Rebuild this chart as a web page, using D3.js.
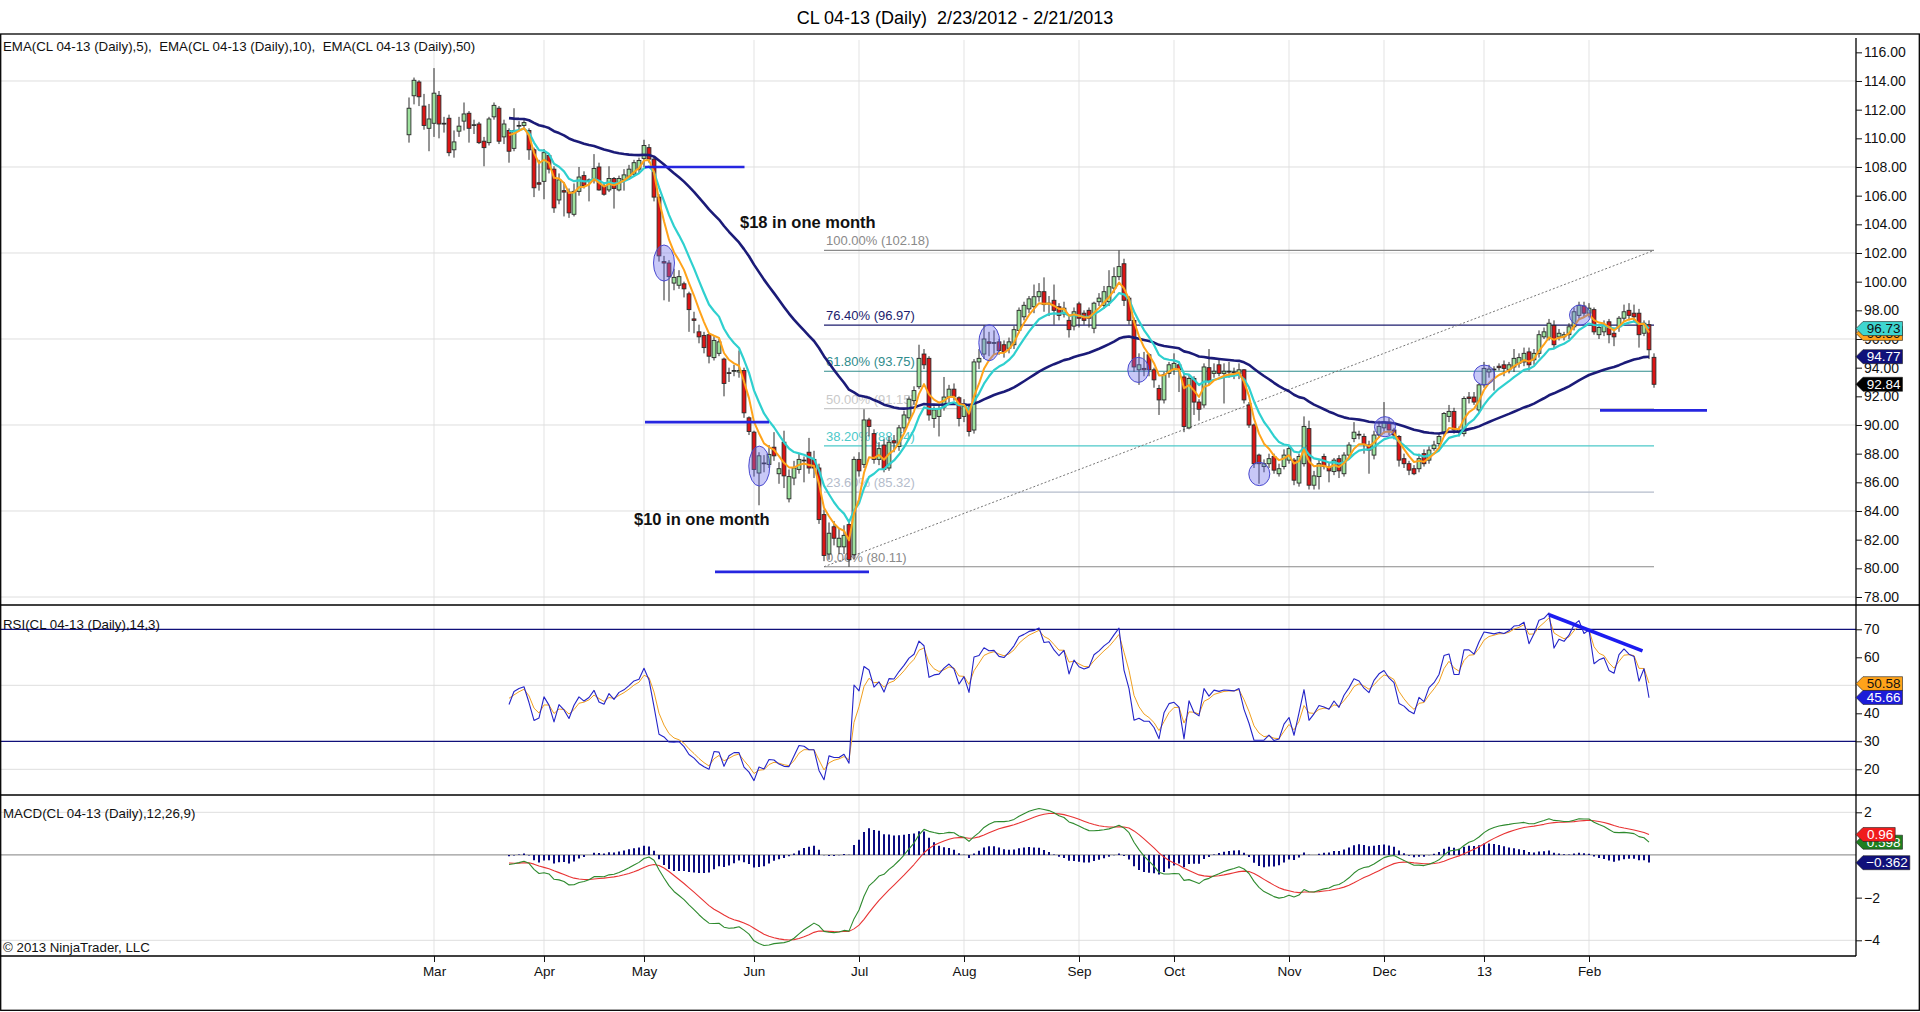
<!DOCTYPE html>
<html><head><meta charset="utf-8">
<script src="https://cdn.jsdelivr.net/npm/d3@7"></script>
<style>
html,body{margin:0;padding:0;background:#fff;}
svg{display:block;font-family:"Liberation Sans",Arial,sans-serif;}
</style></head><body>
<svg id="c" width="1920" height="1012"></svg>
<script>
// ---------------- DATA ----------------
const opens = [110.25,112.97,113.93,112.25,110.7,111.05,113.0,111.05,111.4,109.2,
110.5,111.2,111.75,110.9,111.0,109.8,109.7,111.5,112.1,110.1,
110.55,109.3,110.85,110.9,110.55,109.2,106.9,107.0,108.8,107.85,
105.7,106.35,106.25,104.7,106.3,107.4,107.05,107.1,108.0,106.7,
106.4,107.2,106.4,107.1,107.35,107.5,107.85,108.6,109.35,108.55,
105.9,101.4,101.3,99.9,99.75,99.85,99.15,97.4,96.5,96.25,
96.3,94.7,95.0,94.6,93.65,93.75,93.7,93.8,90.5,89.5,
86.65,87.35,87.25,88.45,86.6,88.8,84.85,86.3,86.9,87.55,
88.1,87.6,87.0,83.75,81.0,82.9,81.5,81.5,83.05,80.95,
87.6,87.25,90.35,89.4,87.6,88.6,87.0,88.9,88.5,89.8,
90.5,91.7,92.67,94.95,94.65,90.45,90.6,91.25,91.95,92.5,
91.9,90.6,91.15,89.65,94.4,94.95,95.8,95.7,95.8,95.6,
95.35,95.6,96.6,97.55,98.1,98.25,98.95,99.3,98.45,98.7,
98.25,97.75,97.3,96.9,98.45,97.8,98.0,96.75,98.6,98.35,
98.6,99.55,100.35,101.25,98.85,97.3,93.85,93.95,94.9,93.85,
92.55,91.75,93.6,93.9,94.2,93.35,89.8,93.25,91.6,91.4,
94.0,93.6,94.2,93.6,93.75,93.7,93.6,93.85,91.4,90.0,
87.9,87.1,87.3,87.8,86.6,87.1,87.55,87.55,85.95,87.3,
89.75,85.8,86.4,87.8,87.1,86.75,87.65,86.6,87.9,89.05,
89.35,89.2,88.6,87.9,89.3,89.8,90.2,89.65,89.2,87.65,
87.3,86.95,86.95,88.0,87.55,88.35,88.7,89.4,90.6,90.95,
89.5,89.4,91.95,91.95,91.05,92.8,93.7,93.9,94.1,94.2,
93.85,94.05,94.3,94.4,95.1,94.55,95.0,96.15,96.05,96.95,
96.15,96.15,96.3,96.85,97.65,98.3,97.8,98.05,96.3,96.5,
97.2,96.4,96.85,97.45,98.0,97.8,97.8,96.4,97.0,94.72];
const highs = [112.85,114.24,114.05,113.1,112.4,114.9,113.3,111.5,111.65,110.55,
111.5,112.5,111.9,111.3,111.15,110.1,111.5,112.5,112.25,111.3,
110.7,112.1,111.2,111.4,110.7,109.35,108.5,109.25,108.9,108.05,
107.55,106.95,106.5,106.85,108.0,107.7,107.2,108.9,108.3,106.85,
108.05,107.3,107.4,107.85,108.15,108.5,108.65,109.9,109.6,108.7,
106.1,101.8,101.5,100.9,100.8,100.0,99.3,97.9,97.0,96.5,
96.4,96.2,96.0,94.7,94.0,94.2,95.2,94.0,90.6,89.6,
88.1,87.9,88.6,89.5,87.4,89.6,86.9,87.5,88.0,87.8,
89.1,88.2,87.3,84.1,83.2,83.3,82.8,83.0,83.3,87.8,
88.1,91.1,90.5,89.7,88.8,89.0,89.2,89.3,90.0,91.0,
92.0,92.7,95.6,95.3,94.8,91.3,91.5,93.35,92.8,92.9,
92.0,91.8,91.5,94.6,95.3,96.95,96.5,96.6,96.0,95.9,
96.1,96.9,98.2,98.6,99.0,99.8,99.9,100.3,99.0,99.8,
98.5,98.6,97.7,98.2,98.6,98.0,98.2,98.6,99.2,99.7,
100.8,101.0,102.18,101.6,99.0,97.5,95.0,95.1,95.0,94.0,
92.8,93.7,94.4,95.0,94.3,93.6,93.5,93.4,91.8,94.3,
95.3,94.3,94.6,94.3,94.4,94.0,94.3,93.9,91.6,90.1,
88.0,87.6,88.0,88.0,87.3,88.3,88.6,87.7,88.0,90.6,
90.3,86.8,87.6,88.0,87.4,87.7,87.9,88.1,88.8,90.2,
89.6,89.4,88.9,89.6,90.3,91.6,90.5,89.8,89.3,88.0,
87.5,87.2,88.0,88.3,88.5,88.9,89.4,90.9,91.4,91.2,
89.9,92.0,92.3,92.3,92.9,94.4,94.2,94.1,94.3,94.5,
94.4,95.3,95.0,95.4,95.4,95.3,96.6,96.8,97.4,97.3,
96.7,96.5,97.1,98.2,98.6,98.6,98.5,98.2,97.0,97.3,
97.4,96.8,97.6,98.4,98.5,98.4,98.1,97.3,97.3,95.0];
const lows = [109.7,112.37,112.25,110.6,109.1,110.1,110.0,110.4,108.75,108.65,
110.1,110.55,109.7,110.3,109.6,108.05,109.5,111.3,109.6,109.6,
108.3,109.1,110.5,110.6,108.5,105.9,106.35,105.75,107.55,104.8,
105.4,104.55,104.45,104.55,106.0,106.5,105.6,106.85,106.35,106.0,
106.25,105.1,106.3,106.35,107.1,107.3,107.55,108.0,108.3,105.6,
101.4,98.7,98.6,99.4,99.5,98.9,96.5,96.4,95.7,95.0,
94.3,94.5,94.8,92.0,93.0,93.4,93.3,90.5,89.3,86.4,
84.4,86.7,87.0,87.5,85.9,85.6,84.6,85.8,86.6,86.0,
86.6,86.3,83.1,80.5,80.6,81.6,81.0,81.0,80.11,80.6,
86.4,87.0,89.2,87.3,87.2,86.7,86.8,88.1,88.2,89.5,
90.3,91.4,92.5,93.9,90.3,89.8,89.2,91.0,91.6,91.7,
89.9,90.2,89.2,89.4,93.9,94.6,94.8,94.9,94.9,94.7,
95.0,95.3,96.4,97.3,97.8,97.8,98.6,97.9,97.6,97.0,
97.3,97.5,96.1,96.6,96.8,97.0,96.8,96.4,98.3,98.1,
98.3,99.2,100.1,98.3,97.0,93.7,92.8,93.4,93.4,92.6,
90.7,91.5,93.3,93.5,92.3,89.5,89.7,90.7,90.3,91.2,
92.8,93.3,93.4,91.5,93.3,93.2,93.2,91.5,89.8,87.0,
85.9,86.7,87.0,86.6,86.4,86.9,87.3,85.8,85.7,87.1,
85.5,85.5,85.5,86.9,86.0,86.5,86.3,86.4,87.7,88.8,
89.0,88.0,86.6,87.6,89.1,89.4,89.3,89.0,87.1,87.0,
86.5,86.5,86.7,87.1,87.3,88.2,88.5,89.2,90.2,89.4,
89.2,89.2,91.5,91.4,90.9,92.6,93.3,92.4,93.8,93.4,
93.6,93.7,94.0,94.1,93.8,94.2,94.7,96.0,95.9,95.3,
95.9,95.9,96.0,96.6,97.4,97.5,97.5,96.3,96.0,96.2,
95.7,95.5,96.5,97.2,97.3,97.2,95.4,96.2,94.6,92.6];
const closes = [112.1,114.05,112.9,110.9,111.35,113.15,111.0,111.0,109.0,109.75,
110.85,111.7,110.7,110.95,109.7,109.35,111.35,112.3,109.8,111.0,
109.1,110.55,110.9,111.1,109.2,106.55,106.8,109.0,107.85,105.15,
107.1,106.25,104.8,106.3,107.3,106.7,107.1,107.9,106.4,106.1,
107.2,106.5,107.2,107.45,107.85,108.3,108.45,109.5,108.55,105.9,
101.8,101.3,100.35,100.3,100.35,99.5,98.05,97.3,96.15,95.4,
94.8,95.9,95.8,92.9,93.6,93.8,93.8,90.85,89.55,86.9,
87.85,87.3,87.95,87.85,86.95,86.45,86.4,87.0,87.6,87.5,
87.0,87.0,83.4,80.9,82.45,82.1,82.1,82.3,80.6,87.6,
86.8,90.35,89.9,87.6,88.35,86.9,88.8,88.75,89.8,90.7,
91.8,92.4,94.65,94.2,90.7,91.05,91.15,91.95,92.5,92.0,
90.45,91.3,89.55,94.4,94.65,96.0,95.7,95.75,95.2,95.1,
95.8,96.65,98.0,98.35,98.8,98.95,99.3,98.4,98.5,98.0,
97.65,98.15,96.65,97.9,97.45,97.3,97.45,98.5,98.85,99.3,
99.65,100.35,101.05,98.7,97.3,94.05,94.2,93.85,93.85,93.15,
91.75,93.5,94.2,94.3,93.85,89.9,93.25,91.6,91.1,94.05,
93.05,93.75,93.6,93.75,93.7,93.65,93.85,91.75,90.0,87.3,
87.3,87.3,87.65,86.85,86.95,87.9,88.35,86.15,87.8,89.9,
85.8,86.45,87.3,87.1,86.8,87.55,86.8,87.9,88.6,89.5,
89.3,88.65,88.25,89.3,89.9,90.2,89.65,89.3,87.55,87.3,
86.85,86.6,87.65,87.3,88.25,88.6,89.2,90.8,90.95,89.65,
89.65,91.85,91.85,91.6,92.8,93.95,93.9,93.85,94.0,93.95,
94.2,94.65,94.7,95.0,94.2,95.0,96.3,96.5,97.1,95.6,
96.4,96.3,96.85,97.9,98.35,97.8,98.15,96.5,96.8,96.95,
96.3,96.15,97.45,97.9,97.65,97.55,96.3,97.1,95.25,92.84];

const monthLabels = ["Mar","Apr","May","Jun","Jul","Aug","Sep","Oct","Nov","Dec","13","Feb"];
const monthBars   = [5,27,47,69,90,111,134,153,176,195,215,236];
const priceTicks = [78,80,82,84,86,88,90,92,94,96,98,100,102,104,106,108,110,112,114,116];
const priceGrid  = [78,84,90,96,102,108,114];
const rsiTicks = [20,30,40,60,70];       // the 50 label sits hidden under the value tags
const rsiGrid  = [20,50];
const rsiBands = [70,30];
const macdTicks = [-4,-2,2];             // the 0 label sits hidden under the value tags
const macdGrid  = [-4,2];

// last values printed in the right-hand tags
const priceTagNames  = ["EMA5","EMA10","EMA50","Last"];
const priceTagValues = [96.39,96.73,94.77,92.84];
const rsiTagNames  = ["Avg","RSI"];
const rsiTagValues = [50.58,45.66];
const macdTagNames  = ["Macd","Avg","Diff"];
const macdTagValues = [0.598,0.96,-0.362];

// drawings
const fibLow = 80.11, fibHigh = 102.18, fibFromBar = 83, fibToBar = 249;
const fibLevels = [0,23.6,38.2,50,61.8,76.4,100];
const blueLines = [[47.2,67.1,108.0],[47.2,72.0,90.2],[61.2,92.0,79.75],[238.2,259.6,91.02]];
const ellipses = [[51,102.56,100.04],[70.06,88.53,85.74],[116.06,97.0,94.48],[145.86,94.72,92.97],
                  [170.06,87.4,85.77],[195.2,90.58,89.18],[215.06,94.18,92.8],[234.2,98.37,96.97]];
const notes = [["$18 in one month",66.2,104.05],["$10 in one month",45.0,83.35]];
const rsiTrend = [[228,75.2],[246.7,62.3]];

// ---------------- INDICATORS (NinjaTrader definitions) ----------------
const calc = closes.slice(0, closes.length - 1); // last bar still forming
function ema(src,p){const a=2/(1+p);const o=[];src.forEach((v,i)=>o.push(i===0?v:a*v+(1-a)*o[i-1]));return o;}
const ema5=ema(calc,5), ema10=ema(calc,10), ema50=ema(calc,50);
function rsiCalc(src,period,smooth){
  const up=[],dn=[],au=[],ad=[],val=[],avg=[];const k=2/(1+smooth);
  for(let i=0;i<src.length;i++){
    if(i===0){up.push(0);dn.push(0);au.push(0);ad.push(0);val.push(50);avg.push(50);continue;}
    up.push(Math.max(src[i]-src[i-1],0));dn.push(Math.max(src[i-1]-src[i],0));
    if(i+1<period){au.push(0);ad.push(0);val.push(50);avg.push(50);continue;}
    if(i+1===period){au.push(d3.mean(up.slice(i-period+1,i+1)));ad.push(d3.mean(dn.slice(i-period+1,i+1)));}
    else{au.push((au[i-1]*(period-1)+up[i])/period);ad.push((ad[i-1]*(period-1)+dn[i])/period);}
    const r=ad[i]===0?100:100-100/(1+au[i]/ad[i]);
    val.push(r);avg.push(k*r+(1-k)*avg[i-1]);
  }
  return {val,avg};
}
const RSI = rsiCalc(calc,14,3);
const f12=ema(calc,12), s26=ema(calc,26);
const macd = calc.map((v,i)=>i===0?0:f12[i]-s26[i]);
const macdAvg=[];macd.forEach((v,i)=>macdAvg.push(i===0?0:0.2*v+0.8*macdAvg[i-1]));
const macdDiff = macd.map((v,i)=>v-macdAvg[i]);
const FIRST = 20;

// ---------------- LAYOUT ----------------
const AX = 1856;
const P = {top:34,bottom:605}, R={top:605,bottom:795}, M={top:795,bottom:956};
const x = d3.scaleLinear().domain([0,249]).range([409,1654]);
const yP = d3.scaleLinear().domain([78,116]).range([597,52.33]);
const yR = d3.scaleLinear().domain([20,70]).range([769.3,629.3]);
const yM = d3.scaleLinear().domain([-4,2]).range([940.3,812.3]);

const svg = d3.select("#c");
svg.append("rect").attr("width",1920).attr("height",1012).attr("fill","#fff");

const defs = svg.append("defs");
[["cp",P],["cr",R],["cm",M]].forEach(([id,p])=>{
  defs.append("clipPath").attr("id",id).append("rect").attr("x",0).attr("y",p.top).attr("width",AX).attr("height",p.bottom-p.top);
});

// title
svg.append("text").attr("x",955).attr("y",24).attr("text-anchor","middle").attr("font-size",18)
  .style("white-space","pre").text("CL 04-13 (Daily)  2/23/2012 - 2/21/2013");

// grid
const grid = svg.append("g");
monthBars.forEach(b=>{
  [[P.top+6,P.bottom],[R.top,R.bottom],[M.top,M.bottom]].forEach(([a,c])=>
    grid.append("line").attr("x1",x(b)).attr("x2",x(b)).attr("y1",a).attr("y2",c).attr("stroke","#e3e3e3").attr("stroke-width",1));
});
priceGrid.forEach(v=>grid.append("line").attr("x1",0).attr("x2",AX).attr("y1",yP(v)).attr("y2",yP(v)).attr("stroke","#dedede"));
rsiGrid.forEach(v=>grid.append("line").attr("x1",0).attr("x2",AX).attr("y1",yR(v)).attr("y2",yR(v)).attr("stroke","#dedede"));
macdGrid.forEach(v=>grid.append("line").attr("x1",0).attr("x2",AX).attr("y1",yM(v)).attr("y2",yM(v)).attr("stroke","#dedede"));

// ---- price panel ----
const gp = svg.append("g").attr("clip-path","url(#cp)");
const fibColors = {0:"#8a8a8a",23.6:"#b4bccb",38.2:"#4cc9c9",50:"#c9c9c9",61.8:"#2f8c8c",76.4:"#1c1c6e",100:"#8a8a8a"};
fibLevels.forEach(l=>{
  const v = fibLow + (fibHigh-fibLow)*l/100;
  const yy = yP(v);
  gp.append("line").attr("x1",x(fibFromBar)).attr("x2",x(fibToBar)).attr("y1",yy).attr("y2",yy)
    .attr("stroke",fibColors[l]).attr("stroke-width",1.2);
  gp.append("text").attr("x",x(fibFromBar)+2).attr("y",yy-5).attr("font-size",13).attr("fill",fibColors[l])
    .text(l.toFixed(2)+"% ("+(Math.round(v*100+1e-6)/100).toFixed(2)+")");
});
gp.append("line").attr("x1",x(fibFromBar)).attr("y1",yP(fibLow)).attr("x2",x(fibToBar)).attr("y2",yP(fibHigh))
  .attr("stroke","#777").attr("stroke-width",1).attr("stroke-dasharray","2,2");

// candles
const bars = d3.range(opens.length);
gp.append("g").selectAll("line").data(bars).join("line")
  .attr("x1",i=>x(i)).attr("x2",i=>x(i)).attr("y1",i=>yP(highs[i])).attr("y2",i=>yP(lows[i]))
  .attr("stroke","#2a2a2a").attr("stroke-width",1);
gp.append("g").selectAll("rect").data(bars).join("rect")
  .attr("x",i=>x(i)-1.9).attr("width",3.8)
  .attr("y",i=>yP(Math.max(opens[i],closes[i])))
  .attr("height",i=>Math.max(0.8,Math.abs(yP(opens[i])-yP(closes[i]))))
  .attr("fill",i=>closes[i]>=opens[i]?"#9ee29e":"#dd1414")
  .attr("stroke","#2a2a2a").attr("stroke-width",0.9);

// EMAs
const idx = d3.range(FIRST, calc.length);
function plot(g,scale,arr,color,w){
  g.append("path").datum(idx).attr("fill","none").attr("stroke",color).attr("stroke-width",w)
   .attr("stroke-linejoin","round").attr("d",d3.line().x(i=>x(i)).y(i=>scale(arr[i])));
}
plot(gp,yP,ema50,"#1b1b78",2.6);
plot(gp,yP,ema10,"#2fd0cf",2.2);
plot(gp,yP,ema5,"#ffa31a",2);

// drawings
ellipses.forEach(([b,hi,lo])=>{
  gp.append("ellipse").attr("cx",x(b)).attr("cy",(yP(hi)+yP(lo))/2).attr("rx",10.5).attr("ry",(yP(lo)-yP(hi))/2)
    .attr("fill","rgba(110,110,235,0.38)").attr("stroke","#4a4ad0").attr("stroke-width",1);
});
blueLines.forEach(([a,b,v])=>{
  gp.append("line").attr("x1",x(a)).attr("x2",x(b)).attr("y1",yP(v)).attr("y2",yP(v))
    .attr("stroke","#2626e0").attr("stroke-width",2.6);
});
notes.forEach(([t,b,v])=>{
  gp.append("text").attr("x",x(b)).attr("y",yP(v)).attr("dominant-baseline","middle")
    .attr("font-size",16.5).attr("font-weight","bold").attr("fill","#111").text(t);
});

// ---- RSI panel ----
const gr = svg.append("g").attr("clip-path","url(#cr)");
rsiBands.forEach(v=>gr.append("line").attr("x1",0).attr("x2",AX).attr("y1",yR(v)).attr("y2",yR(v)).attr("stroke","#10107a").attr("stroke-width",1.2));
plot(gr,yR,RSI.avg,"#f0a020",1);
plot(gr,yR,RSI.val,"#2424c8",1.1);
gr.append("line").attr("x1",x(rsiTrend[0][0])).attr("y1",yR(rsiTrend[0][1])).attr("x2",x(rsiTrend[1][0])).attr("y2",yR(rsiTrend[1][1]))
  .attr("stroke","#1c1cf0").attr("stroke-width",3.6);

// ---- MACD panel ----
const gm = svg.append("g").attr("clip-path","url(#cm)");
gm.append("line").attr("x1",0).attr("x2",AX).attr("y1",yM(0)).attr("y2",yM(0)).attr("stroke","#9a9a9a").attr("stroke-width",1.2);
gm.append("g").selectAll("line").data(idx).join("line")
  .attr("x1",i=>x(i)).attr("x2",i=>x(i)).attr("y1",yM(0)).attr("y2",i=>yM(macdDiff[i]))
  .attr("stroke","#0a0a80").attr("stroke-width",2);
plot(gm,yM,macdAvg,"#e83434",1.1);
plot(gm,yM,macd,"#2e8a2e",1.1);

// panel titles
const lab = (t,yy)=>svg.append("text").attr("x",3).attr("y",yy).attr("font-size",13.3).style("white-space","pre").attr("fill","#111").text(t);
lab("EMA(CL 04-13 (Daily),5),  EMA(CL 04-13 (Daily),10),  EMA(CL 04-13 (Daily),50)",51);
lab("RSI(CL 04-13 (Daily),14,3)",629);
lab("MACD(CL 04-13 (Daily),12,26,9)",818);
lab("© 2013 NinjaTrader, LLC",952);

// frame & separators
const fr = svg.append("g").attr("stroke","#000").attr("stroke-width",1.3);
fr.append("rect").attr("x",0.7).attr("y",P.top).attr("width",1918.6).attr("height",1010.3-P.top).attr("fill","none");
fr.append("line").attr("x1",0).attr("x2",1920).attr("y1",R.top).attr("y2",R.top);
fr.append("line").attr("x1",0).attr("x2",1920).attr("y1",M.top).attr("y2",M.top);
fr.append("line").attr("x1",0).attr("x2",AX).attr("y1",M.bottom).attr("y2",M.bottom);
fr.append("line").attr("x1",AX).attr("x2",AX).attr("y1",P.top+4).attr("y2",M.bottom);

// axes
function styleAxis(size){return g=>{g.select(".domain").remove();g.selectAll("text").attr("font-size",size).attr("fill","#111").attr("font-family","Liberation Sans, Arial, sans-serif");g.selectAll(".tick line").attr("stroke","#111");};}
svg.append("g").attr("transform",`translate(${AX},0)`)
  .call(d3.axisRight(yP).tickValues(priceTicks).tickSize(6).tickPadding(2).tickFormat(d3.format(".2f"))).call(styleAxis(14));
svg.append("g").attr("transform",`translate(${AX},0)`)
  .call(d3.axisRight(yR).tickValues(rsiTicks).tickSize(6).tickPadding(2).tickFormat(d3.format("d"))).call(styleAxis(14));
svg.append("g").attr("transform",`translate(${AX},0)`)
  .call(d3.axisRight(yM).tickValues(macdTicks).tickSize(6).tickPadding(2).tickFormat(d3.format("d"))).call(styleAxis(14));
svg.append("g").attr("transform",`translate(0,${M.bottom})`)
  .call(d3.axisBottom(x).tickValues(monthBars).tickSize(6).tickPadding(4).tickFormat((d,i)=>monthLabels[i])).call(styleAxis(13.5));

// value tags
function tag(yc,text,fill,col){
  const w = text.length*7.3+10;
  svg.append("path").attr("d",`M${AX},${yc} L${AX+7},${yc-7} L${AX+w},${yc-7} L${AX+w},${yc+7} L${AX+7},${yc+7} Z`)
    .attr("fill",fill).attr("stroke","#222").attr("stroke-width",0.6);
  svg.append("text").attr("x",AX+w-2).attr("y",yc+4.7).attr("text-anchor","end").attr("font-size",13.5).attr("fill",col).text(text);
}
const priceTagStyle = {EMA5:["#ffa31a","#111"],EMA10:["#3fd6d0","#111"],EMA50:["#10107a","#fff"],Last:["#000","#fff"]};
priceTagNames.forEach((n,i)=>tag(yP(priceTagValues[i]),priceTagValues[i].toFixed(2),...priceTagStyle[n]));
const rsiTagStyle = {Avg:["#ffa31a","#111"],RSI:["#1c1cd8","#fff"]};
rsiTagNames.forEach((n,i)=>tag(yR(rsiTagValues[i]),rsiTagValues[i].toFixed(2),...rsiTagStyle[n]));
const macdTagStyle = {Macd:["#1f7f1f","#fff"],Avg:["#f01c1c","#fff"],Diff:["#10107a","#fff"]};
const macdFmt = {Macd:".3f",Avg:".2f",Diff:".3f"};
macdTagNames.forEach((n,i)=>tag(yM(macdTagValues[i]),d3.format(macdFmt[n])(macdTagValues[i]),...macdTagStyle[n]));
</script>
</body></html>
